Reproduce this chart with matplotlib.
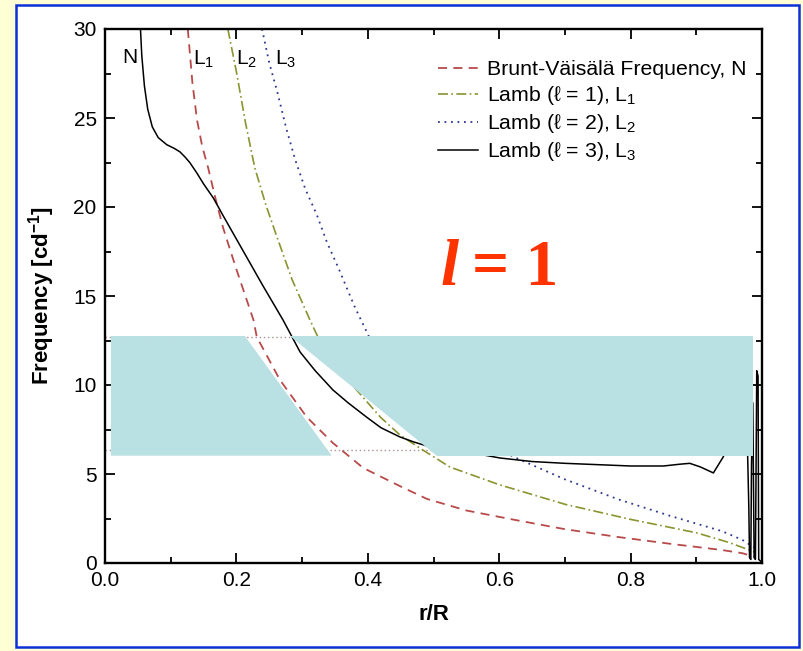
import matplotlib
matplotlib.use("Agg")
import matplotlib.pyplot as plt
from matplotlib.patches import Rectangle
from matplotlib.ticker import MultipleLocator, FormatStrFormatter

plt.rcParams['font.family'] = ['Liberation Sans', 'DejaVu Sans']
plt.rcParams['mathtext.fontset'] = 'custom'
plt.rcParams['mathtext.rm'] = 'Liberation Sans'
plt.rcParams['mathtext.it'] = 'Liberation Sans:italic'
plt.rcParams['mathtext.bf'] = 'Liberation Sans:bold'

# ---- profiles (r/R, frequency in c/d) ----
l1_r = [0.126, 0.133, 0.14, 0.148, 0.157, 0.168, 0.18, 0.2, 0.226, 0.231, 0.25,
        0.266, 0.307, 0.347, 0.393, 0.45, 0.49, 0.55, 0.624, 0.7, 0.781, 0.86,
        0.939, 0.97, 0.99]
l1_f = [30.0, 27.0, 24.9, 23.4, 22.2, 20.5, 18.8, 16.5, 13.65, 12.7, 11.4,
        10.3, 8.2, 6.74, 5.34, 4.3, 3.6, 2.95, 2.42, 1.9, 1.46, 1.08,
        0.73, 0.55, 0.34]

l2_r = [0.187, 0.2, 0.214, 0.228, 0.245, 0.26, 0.285, 0.312, 0.324, 0.352,
        0.383, 0.419, 0.449, 0.479, 0.525, 0.6, 0.7, 0.8, 0.9, 0.95, 0.99]
l2_f = [30.0, 27.6, 24.7, 22.2, 20.1, 18.5, 15.9, 13.65, 12.7, 11.1,
        9.72, 8.2, 7.19, 6.46, 5.39, 4.4, 3.3, 2.45, 1.7, 1.15, 0.6]

l3_r = [0.239, 0.25, 0.262, 0.276, 0.29, 0.305, 0.322, 0.338, 0.355, 0.38,
        0.402, 0.45, 0.5, 0.55, 0.624, 0.7, 0.781, 0.86, 0.939, 0.97, 0.99]
l3_f = [30.0, 28.1, 26.5, 24.4, 22.6, 21.0, 19.6, 18.0, 16.6, 14.4,
        12.7, 10.6, 8.8, 7.4, 5.93, 4.7, 3.58, 2.65, 1.79, 1.3, 0.83]

n_r = [0.054, 0.056, 0.06, 0.065, 0.072, 0.081, 0.094, 0.105, 0.114, 0.122,
       0.129, 0.14, 0.15, 0.165, 0.18, 0.2, 0.22, 0.24, 0.271, 0.297, 0.32,
       0.347, 0.37, 0.398, 0.42, 0.449, 0.47, 0.5, 0.54, 0.576, 0.601, 0.65,
       0.7, 0.8, 0.85, 0.875, 0.89, 0.906, 0.926, 0.941, 0.955, 0.968,
       0.978, 0.980, 0.981, 0.983, 0.984, 0.986, 0.988, 0.990, 0.992,
       0.994, 0.995, 0.998]
n_f = [30.0, 28.5, 26.8, 25.5, 24.5, 23.9, 23.5, 23.3, 23.1, 22.8,
       22.5, 21.9, 21.3, 20.5, 19.5, 18.2, 16.9, 15.6, 13.65, 11.85, 10.8,
       9.72, 9.0, 8.2, 7.6, 7.08, 6.8, 6.46, 6.25, 6.07, 5.9, 5.7,
       5.6, 5.45, 5.45, 5.55, 5.6, 5.4, 5.06, 5.96, 7.2, 7.0,
       6.3, 3.0, 0.3, 0.2, 5.5, 9.0, 0.3, 0.2, 10.8,
       10.5, 0.2, 0.1]

legend_labels = ["Brunt-Väisälä Frequency, N",
                 "Lamb (ℓ = 1), L$_1$",
                 "Lamb (ℓ = 2), L$_2$",
                 "Lamb (ℓ = 3), L$_3$"]

# frequency window of the l = 1 band and its cut-out edges
band_low, band_high = 6.03, 12.75
band_left, band_right = 0.009, 0.986
cut_top = (0.213, 0.282)
cut_bottom = (0.345, 0.505)
guide_levels = [12.7, 6.35]

# ---- figure ----
W, H = 804, 651
fig = plt.figure(figsize=(W / 100, H / 100), dpi=100, facecolor='#FFFFD6')
fig.patches.append(Rectangle((16 / W, 1 - 647 / H), (799 - 16) / W, (647 - 5) / H,
                             transform=fig.transFigure, facecolor='white',
                             edgecolor='#0B30D8', lw=1.8, zorder=-5))

ax = fig.add_axes([105 / W, 1 - 563 / H, 657 / W, 534 / H])
ax.set_facecolor('white')

for lev in guide_levels:
    ax.plot([0, band_right], [lev, lev], ls=(0, (1, 2)), color='#B09090', lw=1.0, zorder=1.5)

red, = ax.plot(l1_r, l1_f, color='#B84A4A', ls=(0, (5, 3.5)), lw=1.3, zorder=2)
olive, = ax.plot(l2_r, l2_f, color='#8A9430', ls=(0, (6, 2, 1, 2)), lw=1.2, zorder=2)
blue, = ax.plot(l3_r, l3_f, color='#2E3590', ls=(0, (1, 2.6)), lw=1.3, zorder=2)
black, = ax.plot(n_r, n_f, color='black', ls='-', lw=1.1, zorder=2)

shade = '#B9E0E3'
ax.fill([band_left, cut_bottom[0], cut_top[0], band_left],
        [band_low, band_low, band_high, band_high], color=shade, lw=0, zorder=3)
ax.fill([cut_top[1], band_right, band_right, cut_bottom[1]],
        [band_high, band_high, band_low, band_low], color=shade, lw=0, zorder=3)

# curve tags along the top
tag_kw = dict(fontsize=15, va='center', ha='left', zorder=4)
ax.text(0.027, 28.4, 'N', **tag_kw)
ax.text(0.134, 28.3, 'L$_1$', **tag_kw)
ax.text(0.200, 28.3, 'L$_2$', **tag_kw)
ax.text(0.258, 28.3, 'L$_3$', **tag_kw)

# degree annotation
ax.text(0.511, 15.6, 'l', family='Liberation Serif', style='italic', weight='bold',
        fontsize=47, color='#FF3300', ha='left', va='baseline', zorder=4)
ax.text(0.558, 15.6, '= 1', family='Liberation Serif', weight='bold',
        fontsize=47, color='#FF3300', ha='left', va='baseline', zorder=4)

leg = ax.legend([red, olive, blue, black], legend_labels, loc='upper left',
                bbox_to_anchor=(0.5, 0.95), frameon=False, fontsize=15.3,
                handlelength=1.9, handletextpad=0.4, labelspacing=0.24,
                borderpad=0.2, borderaxespad=0)
leg.set_zorder(6)

ax.set_xlim(0, 1.0)
ax.set_ylim(0, 30)
ax.xaxis.set_major_locator(MultipleLocator(0.2))
ax.xaxis.set_minor_locator(MultipleLocator(0.1))
ax.yaxis.set_major_locator(MultipleLocator(5))
ax.yaxis.set_minor_locator(MultipleLocator(2.5))
ax.xaxis.set_major_formatter(FormatStrFormatter('%.1f'))
ax.tick_params(which='both', direction='in', top=True, right=True, width=1.3,
               labelsize=15, colors='black')
ax.tick_params(which='major', length=7, pad=6)
ax.tick_params(which='minor', length=4)
for s in ax.spines.values():
    s.set_linewidth(1.7)
    s.set_zorder(7)

ax.set_xlabel('r/R', fontsize=16, weight='bold', labelpad=10)
ax.set_ylabel('Frequency [cd$^{\\mathbf{-1}}$]', fontsize=16, weight='bold', labelpad=12)

fig.savefig('out.png', dpi=100, facecolor=fig.get_facecolor())
